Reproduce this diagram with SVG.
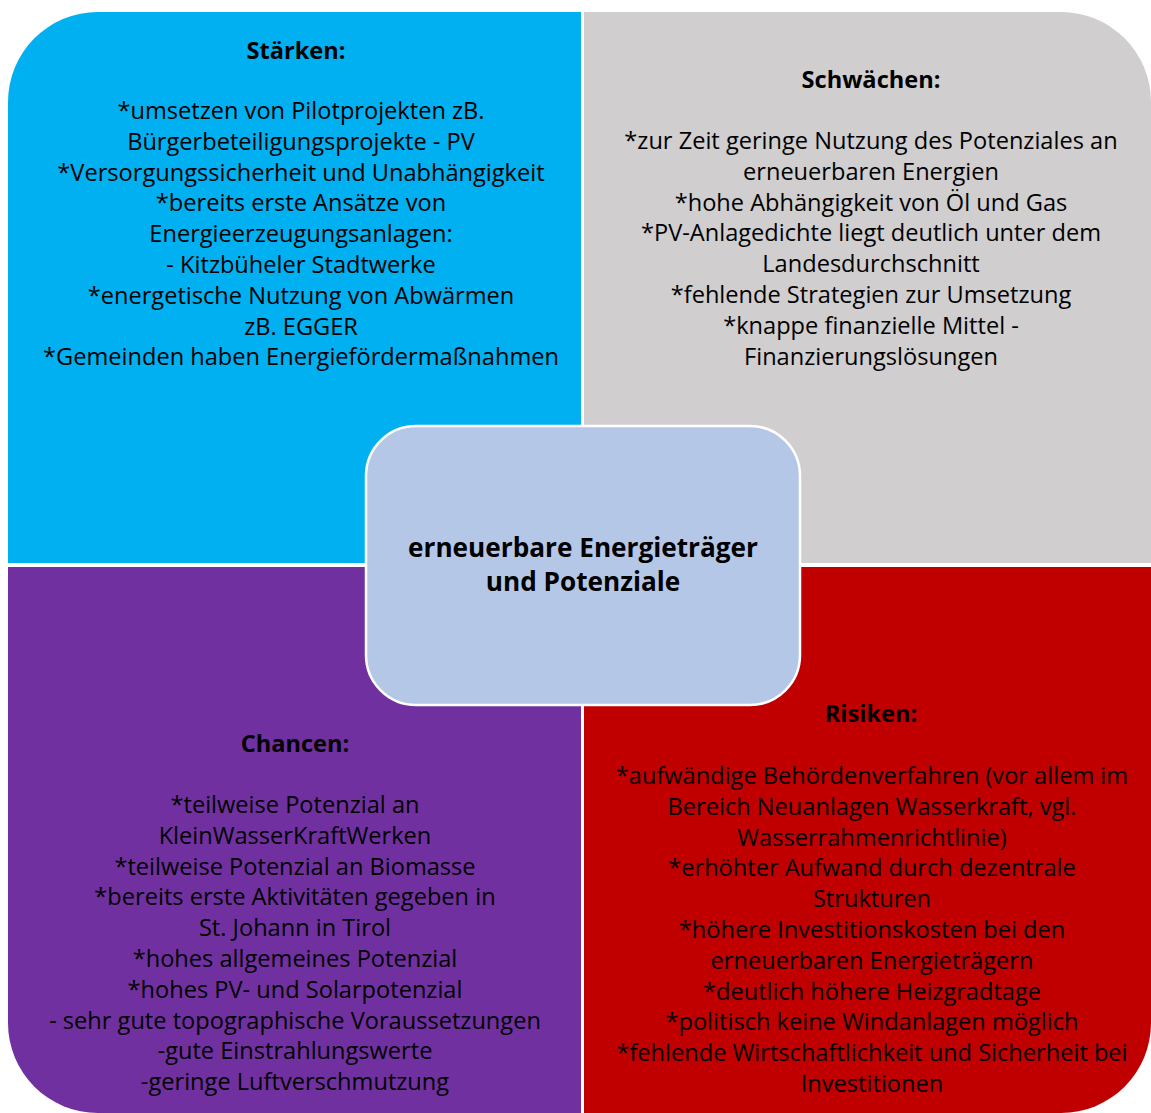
<svg xmlns="http://www.w3.org/2000/svg" width="1151" height="1113" viewBox="0 0 1151 1113">
<style>
.t{font-family:"Open Sans","Liberation Sans",sans-serif;font-size:23.6px;fill:#000;text-anchor:middle}
.h{font-weight:bold}
.c{font-family:"Open Sans","Liberation Sans",sans-serif;font-size:26.2px;font-weight:bold;fill:#000;text-anchor:middle}
</style>
<rect width="1151" height="1113" fill="#fff"/>
<g id="staerken">
<path d="M8,102 A90,90 0 0 1 98,12 L581,12 L581,563 L8,563 Z" fill="#00B0F0"/>
<text class="t"><tspan class="h" x="296" y="59">Stärken:</tspan><tspan x="301" y="119">*umsetzen von Pilotprojekten zB.</tspan><tspan x="301" dy="30.8">Bürgerbeteiligungsprojekte - PV</tspan><tspan x="301" dy="30.8">*Versorgungssicherheit und Unabhängigkeit</tspan><tspan x="301" dy="30.8">*bereits erste Ansätze von</tspan><tspan x="301" dy="30.8">Energieerzeugungsanlagen:</tspan><tspan x="301" dy="30.8">- Kitzbüheler Stadtwerke</tspan><tspan x="301" dy="30.8">*energetische Nutzung von Abwärmen</tspan><tspan x="301" dy="30.8">zB. EGGER</tspan><tspan x="301" dy="30.8">*Gemeinden haben Energiefördermaßnahmen</tspan></text>
</g>
<g id="schwaechen">
<path d="M584,12 L1061,12 A90,90 0 0 1 1151,102 L1151,563 L584,563 Z" fill="#D0CECE"/>
<text class="t"><tspan class="h" x="871" y="88">Schwächen:</tspan><tspan x="871" y="149">*zur Zeit geringe Nutzung des Potenziales an</tspan><tspan x="871" dy="30.8">erneuerbaren Energien</tspan><tspan x="871" dy="30.8">*hohe Abhängigkeit von Öl und Gas</tspan><tspan x="871" dy="30.8">*PV-Anlagedichte liegt deutlich unter dem</tspan><tspan x="871" dy="30.8">Landesdurchschnitt</tspan><tspan x="871" dy="30.8">*fehlende Strategien zur Umsetzung</tspan><tspan x="871" dy="30.8">*knappe finanzielle Mittel -</tspan><tspan x="871" dy="30.8">Finanzierungslösungen</tspan></text>
</g>
<g id="chancen">
<path d="M8,567 L581,567 L581,1113 L98,1113 A90,90 0 0 1 8,1023 Z" fill="#7030A0"/>
<text class="t"><tspan class="h" x="295" y="752">Chancen:</tspan><tspan x="295" y="813">*teilweise Potenzial an</tspan><tspan x="295" dy="30.8">KleinWasserKraftWerken</tspan><tspan x="295" dy="30.8">*teilweise Potenzial an Biomasse</tspan><tspan x="295" dy="30.8">*bereits erste Aktivitäten gegeben in</tspan><tspan x="295" dy="30.8">St. Johann in Tirol</tspan><tspan x="295" dy="30.8">*hohes allgemeines Potenzial</tspan><tspan x="295" dy="30.8">*hohes PV- und Solarpotenzial</tspan><tspan x="295" dy="30.8">- sehr gute topographische Voraussetzungen</tspan><tspan x="295" dy="30.8">-gute Einstrahlungswerte</tspan><tspan x="295" dy="30.8">-geringe Luftverschmutzung</tspan></text>
</g>
<g id="risiken">
<path d="M584,567 L1151,567 L1151,1023 A90,90 0 0 1 1061,1113 L584,1113 Z" fill="#C00000"/>
<text class="t"><tspan class="h" x="871" y="722">Risiken:</tspan><tspan x="872" y="784">*aufwändige Behördenverfahren (vor allem im</tspan><tspan x="872" dy="30.8">Bereich Neuanlagen Wasserkraft, vgl.</tspan><tspan x="872" dy="30.8">Wasserrahmenrichtlinie)</tspan><tspan x="872" dy="30.8">*erhöhter Aufwand durch dezentrale</tspan><tspan x="872" dy="30.8">Strukturen</tspan><tspan x="872" dy="30.8">*höhere Investitionskosten bei den</tspan><tspan x="872" dy="30.8">erneuerbaren Energieträgern</tspan><tspan x="872" dy="30.8">*deutlich höhere Heizgradtage</tspan><tspan x="872" dy="30.8">*politisch keine Windanlagen möglich</tspan><tspan x="872" dy="30.8">*fehlende Wirtschaftlichkeit und Sicherheit bei</tspan><tspan x="872" dy="30.8">Investitionen</tspan></text>
</g>
<g id="connectors"></g>
<g id="center">
<rect x="366" y="426" width="434" height="279" rx="50" ry="50" fill="#B4C7E7" stroke="#fff" stroke-width="2.5"/>
<text class="c"><tspan x="583" y="557">erneuerbare Energieträger</tspan><tspan x="583" y="591">und Potenziale</tspan></text>
</g>
</svg>
